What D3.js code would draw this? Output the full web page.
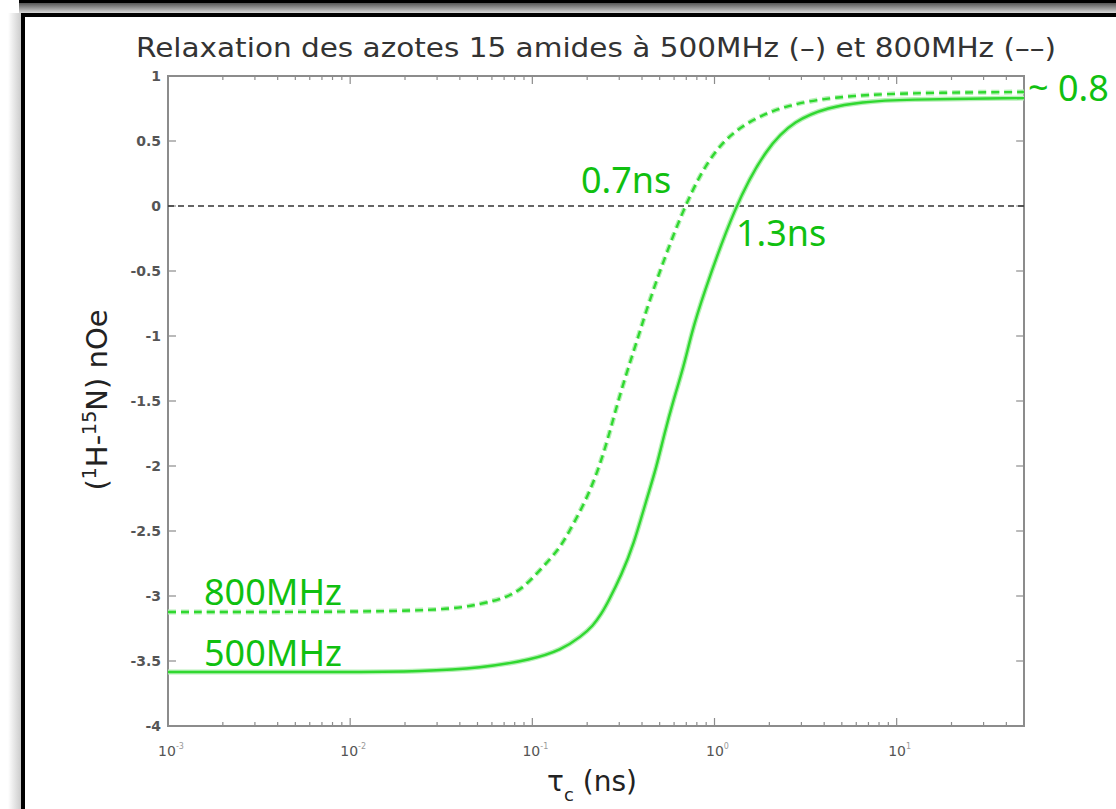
<!DOCTYPE html>
<html>
<head>
<meta charset="utf-8">
<script src="https://cdn.jsdelivr.net/npm/d3@7/dist/d3.min.js"></script>
<style>
  body { margin: 0; background: #fff; }
</style>
</head>
<body>
<div id="chart"></div>
<script>
// values (tau in ns, nOe)
var tau500 = [0.001, 0.01, 0.0245, 0.0525, 0.0989, 0.144, 0.186, 0.215, 0.239, 0.262, 0.308, 0.359, 0.423, 0.480, 0.531, 0.596, 0.676, 0.748, 0.849, 1.29, 1.93, 2.75, 4.23, 6.42, 10.6, 50];
var noe500 = [-3.585, -3.585, -3.58, -3.554, -3.49, -3.415, -3.31, -3.23, -3.14, -3.04, -2.84, -2.61, -2.26, -2.01, -1.75, -1.49, -1.24, -0.98, -0.72, 0.0, 0.45, 0.66, 0.76, 0.80, 0.82, 0.83];

var tau800 = [0.001, 0.01, 0.0345, 0.0525, 0.0738, 0.0904, 0.112, 0.139, 0.158, 0.198, 0.233, 0.265, 0.297, 0.337, 0.387, 0.440, 0.676, 1.0, 1.54, 2.55, 4.56, 10.6, 50];
var noe800 = [-3.123, -3.123, -3.108, -3.062, -3.008, -2.93, -2.79, -2.646, -2.515, -2.26, -2.01, -1.75, -1.49, -1.24, -0.98, -0.72, 0.0, 0.45, 0.66, 0.78, 0.84, 0.87, 0.877];

var yTicks = [1, 0.5, 0, -0.5, -1, -1.5, -2, -2.5, -3, -3.5, -4];
var yTickLabels = ['1', '0.5', '0', '-0.5', '-1', '-1.5', '-2', '-2.5', '-3', '-3.5', '-4'];
var xDecades = [0.001, 0.01, 0.1, 1, 10];
var xDecadeExps = ['-3', '-2', '-1', '0', '1'];

var annotations = [
  {text: '~ 0.8', x: 1028, y: 101},
  {text: '0.7ns', x: 581, y: 193},
  {text: '1.3ns', x: 736, y: 246},
  {text: '800MHz', x: 204, y: 605},
  {text: '500MHz', x: 204, y: 666}
];

var W = 1116, H = 809;
var margin = {left: 168, right: 1024, top: 76, bottom: 726};

var svg = d3.select('#chart').append('svg')
  .attr('width', W)
  .attr('height', H);

var x = d3.scaleLog().domain([0.001, 50]).range([margin.left, margin.right]);
var y = d3.scaleLinear().domain([-4, 1]).range([margin.bottom, margin.top]);

_drawFrame(svg);
_drawAxes(svg);
_drawCurves(svg);
_drawTexts(svg);

function _drawFrame (svg) {
  var defs = svg.append('defs');
  var gTop = defs.append('linearGradient')
    .attr('id', 'shadowTop')
    .attr('x1', 0).attr('y1', 0).attr('x2', 0).attr('y2', 1);
  gTop.append('stop').attr('offset', '0%').attr('stop-color', '#555');
  gTop.append('stop').attr('offset', '100%').attr('stop-color', '#d8d8d8');

  var gLeft = defs.append('linearGradient')
    .attr('id', 'shadowLeft')
    .attr('x1', 0).attr('y1', 0).attr('x2', 1).attr('y2', 0);
  gLeft.append('stop').attr('offset', '0%').attr('stop-color', '#fff');
  gLeft.append('stop').attr('offset', '100%').attr('stop-color', '#ccc');

  svg.append('rect')
    .attr('x', 0).attr('y', 0).attr('width', W).attr('height', H)
    .style('fill', '#fff');

  // shadow between the two frames
  svg.append('rect')
    .attr('x', 19).attr('y', 3).attr('width', W).attr('height', 10)
    .style('fill', 'url(#shadowTop)');
  svg.append('rect')
    .attr('x', 8).attr('y', 13).attr('width', 13).attr('height', H)
    .style('fill', 'url(#shadowLeft)');

  svg.append('rect')
    .attr('x', 19).attr('y', 0).attr('width', W).attr('height', 3)
    .style('fill', '#000');

  svg.append('rect')
    .attr('x', 23).attr('y', 15).attr('width', W + 40).attr('height', H + 40)
    .style('fill', '#fff')
    .style('stroke', '#000')
    .style('stroke-width', 4);
}

function _drawAxes (svg) {
  var g = svg.append('g');
  var axisColor = '#8c8c8c';

  // y ticks, left and right, pointing inward
  g.selectAll('.yTickL')
    .data(yTicks)
    .enter()
    .append('line')
    .attr('x1', margin.left).attr('x2', margin.left + 8)
    .attr('y1', function (d) { return y(d); })
    .attr('y2', function (d) { return y(d); })
    .style('stroke', axisColor).style('stroke-width', 1.2);

  g.selectAll('.yTickR')
    .data(yTicks)
    .enter()
    .append('line')
    .attr('x1', margin.right).attr('x2', margin.right - 8)
    .attr('y1', function (d) { return y(d); })
    .attr('y2', function (d) { return y(d); })
    .style('stroke', axisColor).style('stroke-width', 1.2);

  g.selectAll('.yLabel')
    .data(yTicks)
    .enter()
    .append('text')
    .attr('x', 161)
    .attr('y', function (d) { return y(d) + 5; })
    .attr('text-anchor', 'end')
    .style('font-family', 'DejaVu Sans, sans-serif')
    .style('font-size', '14px')
    .style('font-weight', 'bold')
    .style('fill', '#555')
    .text(function (d, i) { return yTickLabels[i]; });

  // x ticks: decades plus minor 2..9
  var minor = [];
  xDecades.forEach(function (dec) {
    for (var k = 2; k <= 9; k++) {
      if (dec * k <= 50) minor.push(dec * k);
    }
  });

  [margin.bottom, margin.top].forEach(function (base) {
    var dir = base === margin.bottom ? -1 : 1;
    g.selectAll(null)
      .data(xDecades)
      .enter()
      .append('line')
      .attr('x1', function (d) { return x(d); })
      .attr('x2', function (d) { return x(d); })
      .attr('y1', base).attr('y2', base + dir * 8)
      .style('stroke', axisColor).style('stroke-width', 1.2);
    g.selectAll(null)
      .data(minor)
      .enter()
      .append('line')
      .attr('x1', function (d) { return x(d); })
      .attr('x2', function (d) { return x(d); })
      .attr('y1', base).attr('y2', base + dir * 4)
      .style('stroke', axisColor).style('stroke-width', 1.2);
  });

  var xl = g.selectAll('.xLabel')
    .data(xDecades)
    .enter()
    .append('text')
    .attr('x', function (d) { return x(d) + 3; })
    .attr('y', 756)
    .attr('text-anchor', 'middle')
    .style('font-family', 'DejaVu Sans, sans-serif')
    .style('font-size', '14px')
    .style('fill', '#555');
  xl.append('tspan').text('10');
  xl.append('tspan')
    .attr('dy', -7)
    .style('font-size', '8px')
    .style('fill', '#999')
    .text(function (d, i) { return xDecadeExps[i]; });

  // box
  g.append('rect')
    .attr('x', margin.left).attr('y', margin.top)
    .attr('width', margin.right - margin.left)
    .attr('height', margin.bottom - margin.top)
    .style('fill', 'none')
    .style('stroke', axisColor)
    .style('stroke-width', 2);

  // zero line
  g.append('line')
    .attr('x1', margin.left).attr('x2', margin.right)
    .attr('y1', y(0)).attr('y2', y(0))
    .style('stroke', '#333')
    .style('stroke-width', 1.6)
    .style('stroke-dasharray', '6,4');
}

function _drawCurves (svg) {
  var line = d3.line()
    .x(function (d) { return x(d[0]); })
    .y(function (d) { return y(d[1]); })
    .curve(d3.curveBasis);

  var pts500 = d3.zip(tau500, noe500);
  var pts800 = d3.zip(tau800, noe800);

  // soft halo like the source image
  [[pts500, null], [pts800, '8,5']].forEach(function (s) {
    svg.append('path')
      .attr('d', line(s[0]))
      .style('fill', 'none')
      .style('stroke', '#b8f0b8')
      .style('stroke-width', 5)
      .style('stroke-dasharray', s[1]);
    svg.append('path')
      .attr('d', line(s[0]))
      .style('fill', 'none')
      .style('stroke', '#30d830')
      .style('stroke-width', 2.4)
      .style('stroke-dasharray', s[1]);
  });
}

function _drawTexts (svg) {
  svg.append('text')
    .attr('x', 136)
    .attr('y', 57)
    .attr('textLength', 920)
    .attr('lengthAdjust', 'spacingAndGlyphs')
    .style('font-family', 'DejaVu Sans, sans-serif')
    .style('font-size', '26px')
    .style('fill', '#333')
    .text('Relaxation des azotes 15 amides à 500MHz (–) et 800MHz (––)');

  var yl = svg.append('text')
    .attr('transform', 'translate(107,400) rotate(-90)')
    .attr('text-anchor', 'middle')
    .style('font-family', 'DejaVu Sans, sans-serif')
    .style('font-size', '29px')
    .style('fill', '#222');
  yl.append('tspan').text('(');
  yl.append('tspan').attr('dy', -11).style('font-size', '19px').text('1');
  yl.append('tspan').attr('dy', 11).text('H-');
  yl.append('tspan').attr('dy', -11).style('font-size', '19px').text('15');
  yl.append('tspan').attr('dy', 11).text('N) nOe');

  var xlab = svg.append('text')
    .attr('x', 592)
    .attr('y', 791)
    .attr('text-anchor', 'middle')
    .style('font-family', 'DejaVu Sans, sans-serif')
    .style('font-size', '28px')
    .style('fill', '#222');
  xlab.append('tspan').text('τ');
  xlab.append('tspan').attr('dy', 10).style('font-size', '18px').text('c');
  xlab.append('tspan').attr('dy', -10).text(' (ns)');

  svg.selectAll('.annot')
    .data(annotations)
    .enter()
    .append('text')
    .attr('x', function (d) { return d.x; })
    .attr('y', function (d) { return d.y; })
    .style('font-family', 'Noto Sans, sans-serif')
    .style('font-size', '36px')
    .style('fill', '#10c010')
    .text(function (d) { return d.text; });
}
</script>
</body>
</html>
